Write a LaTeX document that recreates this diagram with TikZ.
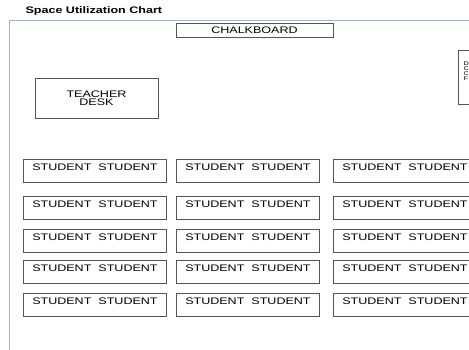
\documentclass[tikz,border=0pt]{standalone}
\usepackage{fontspec}
\setmainfont[FakeStretch=1.32]{Liberation Sans}
\usepackage{xcolor}
\usepackage{tikz}
\usetikzlibrary{positioning}
\definecolor{Frame}{HTML}{9FB2CE}
\definecolor{Edge}{HTML}{555555}

\begin{document}
\begin{tikzpicture}[
  x=1pt,y=-1pt,
  font=\fontsize{9.5}{8}\selectfont,
  furniture/.style={draw=Edge,line width=0.9pt,inner sep=0pt,align=center},
  desk/.style={furniture,anchor=north west,minimum width=143pt,
    inner ysep=2pt,text height=9.5pt,text depth=9.5pt},
  title/.style={font=\fontsize{9.5}{11}\selectfont\bfseries,anchor=west}
]
\useasboundingbox (0,0) rectangle (469,349);
\clip (0,0) rectangle (469,349);

% Room outline and title.
\node[title] (chart) at (22,11.5) {Space Utilization Chart};
\draw[Frame,line width=0.9pt] (9.5,355) -- (9.5,20) -- (480,20);

% Front of the room.
\node[furniture,minimum width=157pt,minimum height=14pt] (board)
  at (254.5,30.2) {CHALKBOARD};
\node[furniture,minimum width=123pt,minimum height=40pt] (teacher)
  at (96.5,98) {TEACHER\\DESK};
\node[furniture,anchor=north west,minimum width=40pt,minimum height=54pt]
  (cabinet) at (458,50) {};
\node[anchor=north west,inner sep=0pt,align=left,
  font=\fontsize{5.5}{5}\selectfont] (cablabel) at (463.3,61.5)
  {D\\C\\C\\F};

% Student desks, three columns by five rows.
\foreach \r/\y in {1/159,2/196,3/229,4/260,5/293} {
  \foreach \c/\x in {1/23,2/176,3/333} {
    \node[desk] (d\r\c) at (\x,\y) {STUDENT\ \ STUDENT};
  }
}
\end{tikzpicture}
\end{document}
